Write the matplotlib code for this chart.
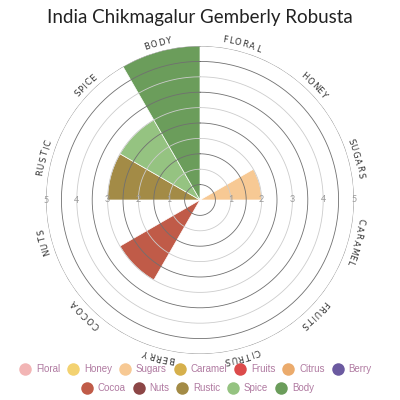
import numpy as np
import matplotlib.pyplot as plt
from matplotlib.lines import Line2D
from matplotlib.textpath import TextPath
from matplotlib.font_manager import FontProperties

# datos del grafico
titulo = "India Chikmagalur Gemberly Robusta"
categorias = ['Floral', 'Honey', 'Sugars', 'Caramel', 'Fruits', 'Citrus',
              'Berry', 'Cocoa', 'Nuts', 'Rustic', 'Spice', 'Body']
valores = [0, 0, 2, 0, 0, 0, 0, 3, 0, 3, 3, 5]
colores = ['#f2b5b5', '#f3d271', '#f7c994', '#d6b04c', '#dc4b4b', '#ebab6c',
           '#6b5aa0', '#c05b48', '#8c4646', '#a38b46', '#95c381', '#6b9d5b']
ticks = [1, 2, 3, 4, 5]

fig = plt.figure(figsize=(4, 4), dpi=100)
ax = fig.add_axes([0.115, 0.115, 0.77, 0.77], projection='polar')
ax.set_theta_zero_location('N')
ax.set_theta_direction(-1)

n = len(categorias)
ancho = 2 * np.pi / n
angulos = np.arange(n) * ancho
ax.bar(angulos, valores, width=ancho, align='edge', color=colores,
       edgecolor='white', linewidth=0.5, zorder=2)

# circulos de la rejilla
t = np.linspace(0, 2 * np.pi, 400)
for r in np.arange(0.5, 5.01, 0.5):
    if r == 5:
        c = '#888888'
    elif r % 1 == 0:
        c = '#cccccc'
    else:
        c = '#707070'
    ax.plot(t, np.full_like(t, r), color=c, lw=0.6, zorder=3)

ax.set_ylim(0, 5)
ax.set_xticks([])
ax.set_yticks([])
ax.grid(False)
ax.spines['polar'].set_visible(False)

# etiquetas de radio
for r in ticks:
    for th in (np.pi / 2, 3 * np.pi / 2):
        ax.text(th, r, str(r), ha='center', va='center', fontsize=6.5,
                color='#999999', family='Lato', zorder=4)

# etiquetas curvas, letra por letra
fs = 6.2
fp = FontProperties(family='DejaVu Sans', size=fs)
radio_px = 0.385 * 400 * 1.03
extra = 1.9  # espacio entre letras en px
for i, cat in enumerate(categorias):
    txt = cat.upper()
    anchos = [TextPath((0, 0), ch, prop=fp).get_extents().width * 100 / 72 + extra
              for ch in txt]
    grados = [np.degrees(w / radio_px) for w in anchos]
    total = sum(grados)
    centro = np.degrees(angulos[i] + ancho / 2)
    a0 = centro - total / 2
    for ch, g in zip(txt, grados):
        a = a0 + g / 2
        ax.text(np.radians(a), 5.17, ch, rotation=-a, rotation_mode='anchor',
                ha='center', va='baseline', fontproperties=fp,
                color='#333333', clip_on=False)
        a0 += g

fig.text(0.5, 0.955, titulo, ha='center', va='center', fontsize=13.5,
         color='#222222', family='Lato')

handles = [Line2D([], [], marker='o', ls='', markersize=9, color=c,
                  markeredgewidth=0, label=l) for l, c in zip(categorias, colores)]
kw = dict(frameon=False, handlelength=1.0, handletextpad=0.6,
          columnspacing=0.85, labelcolor='#b07aa1', borderpad=0,
          prop={'family': 'Liberation Sans', 'size': 7.0})
fig.legend(handles=handles[:7], ncol=7, loc='center',
           bbox_to_anchor=(0.49, 0.0775), **kw)
fig.legend(handles=handles[7:], ncol=5, loc='center',
           bbox_to_anchor=(0.495, 0.03), **kw)

fig.savefig('out.png', dpi=100)
